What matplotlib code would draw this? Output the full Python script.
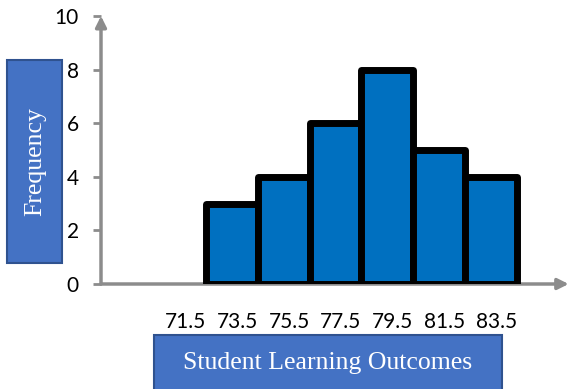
import matplotlib
matplotlib.use("Agg")
import matplotlib.pyplot as plt
from matplotlib.patches import Rectangle

# class boundaries and frequencies
edges = [71.5, 73.5, 75.5, 77.5, 79.5, 81.5, 83.5]
freq = [3, 4, 6, 8, 5, 4]
edge_labels = ["71.5", "73.5", "75.5", "77.5", "79.5", "81.5", "83.5"]
yticks = [0, 2, 4, 6, 8, 10]

W, H = 571, 389
fig = plt.figure(figsize=(W / 100, H / 100), dpi=100)
ax = fig.add_axes([101 / W, (H - 284) / H, (W - 101) / W, (284 - 16) / H])

gray = "#8c8c8c"
bars = ax.bar(edges[:-1], freq, width=2, align="edge", color="#0070C0",
              edgecolor="black", linewidth=5, zorder=3)
for b in bars:
    b.set_joinstyle("round")

ax.set_xlim(67.43, 85.6)
ax.set_ylim(0, 10)

for s in ax.spines.values():
    s.set_visible(False)

# axes with arrow heads
ax.annotate("", xy=(0, 1.0), xytext=(0, 0), xycoords="axes fraction",
            arrowprops=dict(arrowstyle="-|>", color=gray, lw=2.5,
                            mutation_scale=16, shrinkA=0, shrinkB=0),
            annotation_clip=False)
ax.annotate("", xy=(0.995, 0), xytext=(0, 0), xycoords="axes fraction",
            arrowprops=dict(arrowstyle="-|>", color=gray, lw=2.5,
                            mutation_scale=16, shrinkA=0, shrinkB=0),
            annotation_clip=False, zorder=2)

ax.set_yticks(yticks)
ax.set_yticklabels([str(v) for v in yticks], fontfamily="Lato", fontsize=15)
ax.tick_params(axis="y", length=6, width=2, color=gray, pad=10)

ax.set_xticks(edges)
ax.set_xticklabels(edge_labels, fontfamily="Lato", fontsize=15, ha="right")
ax.tick_params(axis="x", length=0, pad=20)

# label boxes
fig.patches.append(Rectangle((7 / W, (H - 263) / H), 55 / W, 203 / H,
                             transform=fig.transFigure, facecolor="#4472C4",
                             edgecolor="#2F528F", lw=1.5))
fig.text(35 / W, (H - 162) / H, "Frequency", rotation=90, color="white",
         fontfamily="Liberation Serif", fontsize=18.5, ha="center", va="center")

fig.patches.append(Rectangle((154 / W, -10 / H), 348 / W, (H - 335 + 10) / H,
                             transform=fig.transFigure, facecolor="#4472C4",
                             edgecolor="#2F528F", lw=1.5))
fig.text(328 / W, (H - 363) / H, "Student Learning Outcomes", color="white",
         fontfamily="Liberation Serif", fontsize=18.5, ha="center", va="center")

fig.savefig("out.png", dpi=100)
